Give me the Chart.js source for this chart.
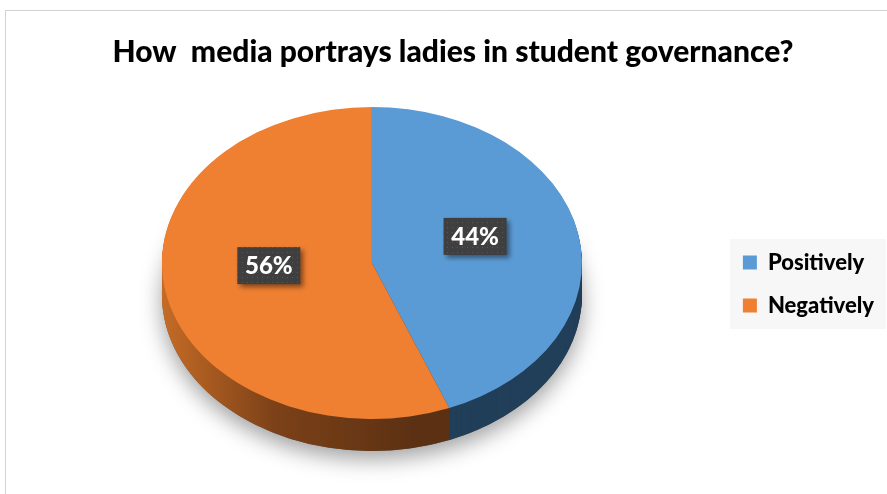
<!DOCTYPE html>
<html><head><meta charset="utf-8">
<script src="https://cdn.jsdelivr.net/npm/chart.js@4.4.1/dist/chart.umd.min.js"></script>
<style>html,body{margin:0;padding:0;background:#fff;overflow:hidden}#wrap{position:relative;width:887px;height:494px}canvas{display:block}</style>
</head><body><div id="wrap"><canvas id="c" width="887" height="494"></canvas></div>
<script>
const chartTitle = 'How  media portrays ladies in student governance?';
const categories = ['Positively', 'Negatively'];
const shares = [44, 56];
const topColors = ['#5B9BD5', '#EF7F31'];

const tilt = 0.743;     // vertical squash of the disc
const liftY = -21;      // move the disc up
const depth = 32;       // thickness of the disc
const labelLift = -12;

function applyTilt(ctx, arc, extra) {
  ctx.translate(0, arc.y + liftY + extra);
  ctx.scale(1, tilt);
  ctx.translate(0, -arc.y);
}
function sideFill(ctx, arc, i) {
  if (i === 0) return '#223F5A';
  const g = ctx.createLinearGradient(arc.x - arc.outerRadius, 0, arc.x + arc.outerRadius * 0.2, 0);
  g.addColorStop(0, '#C56B26');
  g.addColorStop(0.45, '#7C4118');
  g.addColorStop(1, '#5C3113');
  return g;
}
let dotPattern = null;
function getPattern(ctx) {
  if (dotPattern) return dotPattern;
  const pc = document.createElement('canvas');
  pc.width = 5; pc.height = 5;
  const p = pc.getContext('2d');
  p.fillStyle = '#3f3f3f'; p.fillRect(0, 0, 5, 5);
  p.fillStyle = '#585858'; p.fillRect(2, 2, 1, 1);
  dotPattern = ctx.createPattern(pc, 'repeat');
  return dotPattern;
}

const pie3d = {
  id: 'pie3d',
  beforeDraw(chart) {
    const ctx = chart.ctx;
    ctx.save();
    ctx.strokeStyle = '#d2d2d2'; ctx.lineWidth = 1;
    ctx.beginPath();
    ctx.moveTo(5.5, 494); ctx.lineTo(5.5, 10.5); ctx.lineTo(887, 10.5);
    ctx.stroke();
    const hb = chart.legend && chart.legend.legendHitBoxes;
    if (hb && hb.length) {
      const l = Math.min(...hb.map(h => h.left)) - 13;
      const r = Math.max(...hb.map(h => h.left + h.width)) + 12;
      const t = Math.min(...hb.map(h => h.top)) - 12.5;
      const b = Math.max(...hb.map(h => h.top + h.height)) + 12.5;
      ctx.fillStyle = '#f7f7f7';
      ctx.fillRect(l, t, r - l, b - t);
    }
    ctx.restore();
  },
  beforeDatasetsDraw(chart) {
    const ctx = chart.ctx;
    const arcs = chart.getDatasetMeta(0).data;
    const a0 = arcs[0];
    ctx.save();
    applyTilt(ctx, a0, depth);
    ctx.shadowColor = 'rgba(0,0,0,0.38)';
    ctx.shadowBlur = 22; ctx.shadowOffsetY = 8;
    ctx.beginPath(); ctx.arc(a0.x, a0.y, a0.outerRadius, 0, Math.PI * 2);
    ctx.fillStyle = '#555'; ctx.fill();
    ctx.restore();
    for (let d = depth; d >= 1; d--) {
      arcs.forEach((arc, i) => {
        ctx.save();
        applyTilt(ctx, arc, d);
        ctx.beginPath();
        ctx.moveTo(arc.x, arc.y);
        ctx.arc(arc.x, arc.y, arc.outerRadius, arc.startAngle, arc.endAngle);
        ctx.closePath();
        ctx.fillStyle = sideFill(ctx, arc, i);
        ctx.fill();
        ctx.restore();
      });
    }
    ctx.save();
    applyTilt(ctx, a0, 0);
  },
  afterDatasetsDraw(chart) {
    const ctx = chart.ctx;
    ctx.restore();
    const arcs = chart.getDatasetMeta(0).data;
    const total = shares.reduce((s, v) => s + v, 0);
    arcs.forEach((arc, i) => {
      const p = arc.tooltipPosition();
      const x = p.x;
      const y = arc.y + liftY + (p.y - arc.y) * tilt + labelLift;
      const txt = Math.round(shares[i] / total * 100) + '%';
      const w = 63, h = 37;
      ctx.save();
      ctx.shadowColor = 'rgba(0,0,0,0.45)';
      ctx.shadowBlur = 5; ctx.shadowOffsetX = 3; ctx.shadowOffsetY = 3;
      ctx.fillStyle = getPattern(ctx);
      ctx.fillRect(x - w / 2, y - h / 2, w, h);
      ctx.restore();
      ctx.save();
      ctx.fillStyle = '#ffffff';
      ctx.font = '900 24px Lato';
      ctx.textAlign = 'center'; ctx.textBaseline = 'middle';
      ctx.fillText(txt, x, y + 1);
      ctx.restore();
    });
  }
};

new Chart(document.getElementById('c'), {
  type: 'pie',
  data: {
    labels: categories,
    datasets: [{ data: shares, backgroundColor: topColors, borderWidth: 0 }]
  },
  options: {
    responsive: false,
    animation: false,
    layout: { padding: { left: 22, right: 3, top: 0, bottom: 0 } },
    plugins: {
      tooltip: { enabled: false },
      title: {
        display: true, text: chartTitle, color: '#000',
        font: { family: 'Lato', size: 30, weight: '900', lineHeight: 1.2 },
        padding: { top: 34, bottom: 4 }
      },
      legend: {
        position: 'right', fullSize: false,
        labels: {
          color: '#000', boxWidth: 14, boxHeight: 14, padding: 21,
          font: { family: 'Lato', size: 22, weight: '900' }
        }
      }
    }
  },
  plugins: [pie3d]
});
</script>
</body></html>
